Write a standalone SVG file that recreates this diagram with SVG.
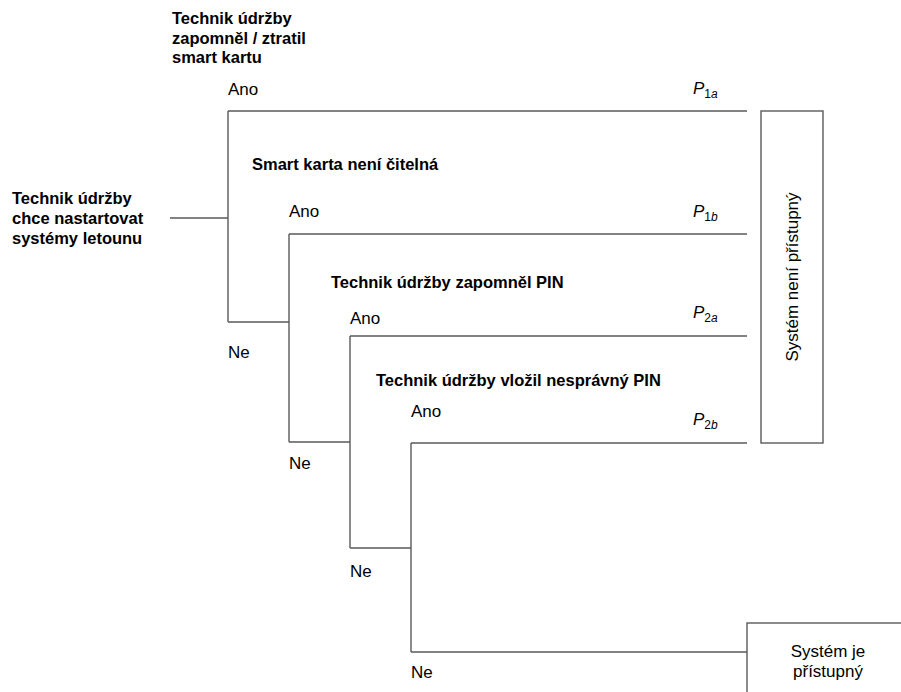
<svg xmlns="http://www.w3.org/2000/svg" width="901" height="692" viewBox="0 0 901 692">
<style>
.ln{stroke:#5a5a5a;stroke-width:1.4;fill:none}
.bx{stroke:#5a5a5a;stroke-width:1.4;fill:#fff}
.b{font-family:"Liberation Sans",Arial,sans-serif;font-weight:bold;font-size:16.5px;fill:#000}
.r{font-family:"Liberation Sans",Arial,sans-serif;font-size:17px;fill:#000}
.p{font-family:"Liberation Sans",Arial,sans-serif;font-size:17px;fill:#000;font-style:italic}
.s{font-style:normal;font-size:12px}
.si{font-style:italic;font-size:12px}
</style>
<rect width="901" height="692" fill="#fff"/>
<g id="connectors">
<path class="ln" d="M170 218H228M228 111V322M228 111H747M228 322H289"/>
<path class="ln" d="M289 234V442M289 234H747M289 442H350"/>
<path class="ln" d="M350 336V548M350 336H747M350 548H411"/>
<path class="ln" d="M411 443V652M411 443H747M411 652H747"/>
</g>
<g id="start">
<text class="b" x="12" y="204">Technik údržby</text>
<text class="b" x="12" y="224">chce nastartovat</text>
<text class="b" x="12" y="244">systémy letounu</text>
</g>
<g id="q1">
<text class="b" x="172" y="24">Technik údržby</text>
<text class="b" x="172" y="44">zapomněl / ztratil</text>
<text class="b" x="172" y="63">smart kartu</text>
<text class="r" x="228" y="95">Ano</text>
<text class="r" x="228" y="358">Ne</text>
</g>
<g id="q2">
<text class="b" x="252" y="170">Smart karta není čitelná</text>
<text class="r" x="289" y="217">Ano</text>
<text class="r" x="289" y="469">Ne</text>
</g>
<g id="q3">
<text class="b" x="331" y="288">Technik údržby zapomněl PIN</text>
<text class="r" x="350" y="324">Ano</text>
<text class="r" x="350" y="577">Ne</text>
</g>
<g id="q4">
<text class="b" x="376" y="386">Technik údržby vložil nesprávný PIN</text>
<text class="r" x="411" y="417">Ano</text>
<text class="r" x="411" y="678">Ne</text>
</g>
<g id="p1a"><text class="p" x="693" y="94">P<tspan class="s" dy="4">1</tspan><tspan class="si">a</tspan></text></g>
<g id="p1b"><text class="p" x="693" y="217">P<tspan class="s" dy="4">1</tspan><tspan class="si">b</tspan></text></g>
<g id="p2a"><text class="p" x="693" y="318">P<tspan class="s" dy="4">2</tspan><tspan class="si">a</tspan></text></g>
<g id="p2b"><text class="p" x="693" y="425">P<tspan class="s" dy="4">2</tspan><tspan class="si">b</tspan></text></g>
<g id="notaccessible">
<rect class="bx" x="761" y="111" width="62" height="332"/>
<text class="r" text-anchor="middle" transform="translate(798 277) rotate(-90)">Systém není přístupný</text>
</g>
<g id="accessible">
<rect class="bx" x="747" y="623" width="160" height="80"/>
<text class="r" text-anchor="middle" x="828" y="657">Systém je</text>
<text class="r" text-anchor="middle" x="828" y="677">přístupný</text>
</g>
</svg>
